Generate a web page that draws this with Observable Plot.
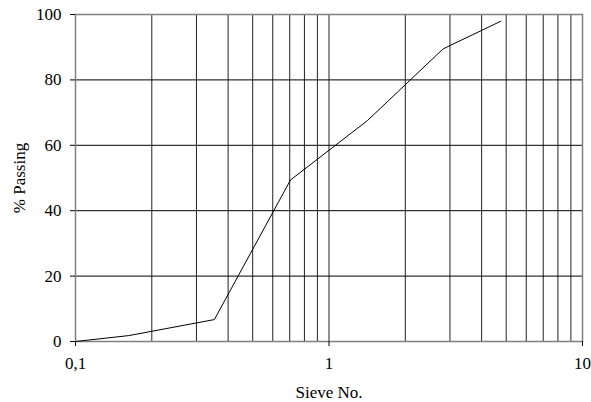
<!DOCTYPE html>
<html><head><meta charset="utf-8">
<script src="https://cdn.jsdelivr.net/npm/d3@7"></script>
<script src="https://cdn.jsdelivr.net/npm/@observablehq/plot@0.6"></script>
<style>body{margin:0;background:#fff}</style>
</head><body><div id="chart"></div>
<script>
const sieveSize = [0.1, 0.162, 0.353, 0.705, 1.42, 2.82, 4.75];
const passing = [0, 1.8, 6.7, 49.4, 67.6, 89.5, 97.9];
const xGrid = [0.2,0.3,0.4,0.5,0.6,0.7,0.8,0.9,1,2,3,4,5,6,7,8,9];
const yGrid = [20,40,60,80];
const xTicks = [0.1, 1, 10];
const yTicks = [0,20,40,60,80,100];

const data = sieveSize.map((s,i)=>({s, p: passing[i]}));

const chart = Plot.plot({
  width: 591, height: 402,
  marginLeft: 75, marginRight: 9, marginTop: 14, marginBottom: 61,
  style: {fontFamily: "'Liberation Serif', 'Times New Roman', serif", fontSize: "17px", background: "#fff", color: "#000"},
  x: {type: "log", domain: [0.1, 10]},
  y: {domain: [0, 100]},
  marks: [
    Plot.ruleX(xGrid, {stroke: "#222", strokeWidth: 1}),
    Plot.ruleY(yGrid, {stroke: "#000", strokeWidth: 1}),
    Plot.frame({stroke: "#808080", strokeWidth: 1.5}),
    Plot.axisX({ticks: xTicks, tickSize: 5, tickPadding: 10, fontSize: 17,
      tickFormat: d => String(d).replace(".", ","),
      label: "Sieve No.", labelAnchor: "center", labelArrow: "none", labelOffset: 56}),
    Plot.axisY({ticks: yTicks, tickSize: 5, tickPadding: 9, fontSize: 17,
      label: "% Passing", labelAnchor: "center", labelArrow: "none", labelOffset: 63}),
    Plot.line(data, {x: "s", y: "p", stroke: "#000", strokeWidth: 1})
  ]
});
document.getElementById("chart").appendChild(chart);
</script>
</body></html>
